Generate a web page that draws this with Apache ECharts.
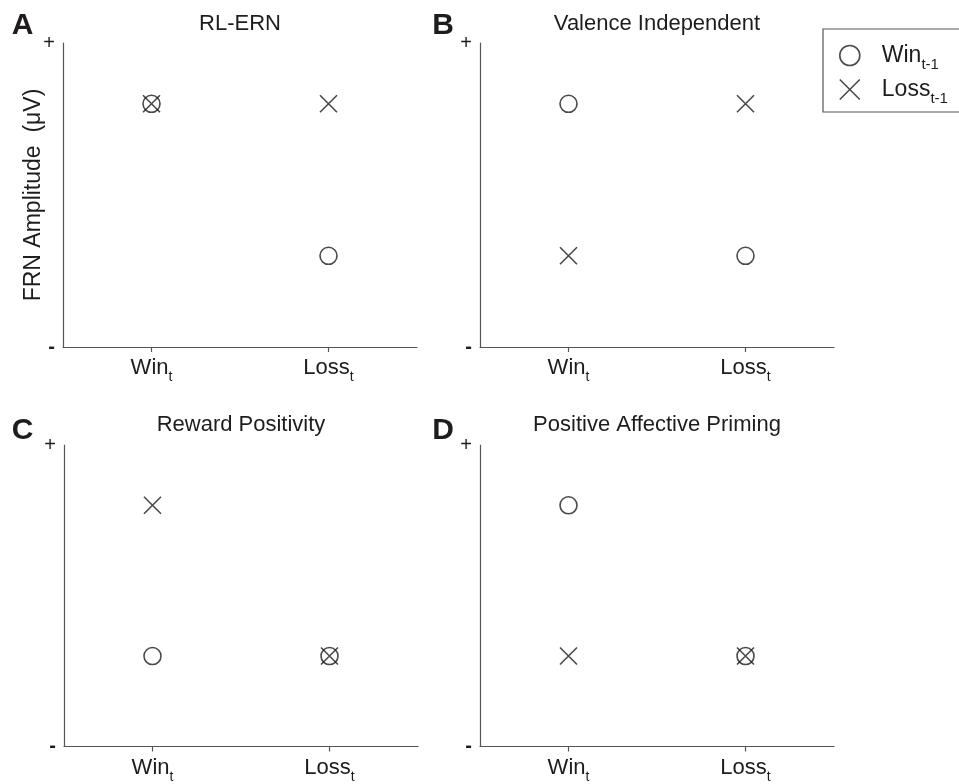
<!DOCTYPE html>
<html>
<head>
<meta charset="utf-8">
<script src="https://cdn.jsdelivr.net/npm/echarts@6/dist/echarts.min.js"></script>
<style>
html,body{margin:0;padding:0;background:#fff;}
#chart{width:959px;height:784px;}
</style>
</head>
<body>
<div id="chart"></div>
<script>
// ---- data ----
const conditions = ['Win', 'Loss'];            // x categories (subscript t)
const panelTitles = ['RL-ERN', 'Valence Independent', 'Reward Positivity', 'Positive Affective Priming'];
const panelLetters = ['A', 'B', 'C', 'D'];
const seriesNames = ['Win t-1', 'Loss t-1'];
const yTickLabels = ['-', '+'];
// FRN amplitude (0 = "-", 1 = "+") for Win_t, Loss_t
const winPrevA = [0.8, 0.3];
const lossPrevA = [0.8, 0.8];
const winPrevB = [0.8, 0.3];
const lossPrevB = [0.3, 0.8];
const winPrevC = [0.3, 0.3];
const lossPrevC = [0.8, 0.3];
const winPrevD = [0.8, 0.3];
const lossPrevD = [0.3, 0.3];

const winPrev = [winPrevA, winPrevB, winPrevC, winPrevD];
const lossPrev = [lossPrevA, lossPrevB, lossPrevC, lossPrevD];

// ---- layout / style ----
const FONT = "'Liberation Sans', Arial, Helvetica, sans-serif";
const INK = '#1f1c1d';
const AXIS = '#555555';
const grids = [
  {left: 63, top: 43, width: 354, height: 304},
  {left: 480, top: 43, width: 354, height: 304},
  {left: 64, top: 445, width: 354, height: 303},
  {left: 480, top: 445, width: 354, height: 303}
];
const titlePos = [[240, 24], [657, 24], [241, 425], [657, 425]];
const letterPos = [[22.5, 26], [443, 26], [22.5, 431], [443, 431]];

const xPath = 'path://M0,0L10,10M10,0L0,10';

const richSub = {
  a: {fontSize: 22, fontFamily: FONT, color: INK, lineHeight: 26},
  s: {fontSize: 14, fontFamily: FONT, color: INK, lineHeight: 26, padding: [19, 0, 0, 0]}
};
const richLegend = {
  a: {fontSize: 23, fontFamily: FONT, color: INK, lineHeight: 27, padding: [0, 0, 0, 17]},
  s: {fontSize: 15, fontFamily: FONT, color: INK, lineHeight: 27, padding: [18, 0, 0, 0]}
};
const richY = {
  p: {fontSize: 20, fontFamily: FONT, color: INK},
  m: {fontSize: 20, fontFamily: FONT, color: INK, fontWeight: 'bold'}
};

const option = {
  animation: false,
  backgroundColor: '#fff',
  textStyle: {fontFamily: FONT, color: INK},
  grid: grids.map(g => Object.assign({containLabel: false}, g)),
  xAxis: grids.map((g, i) => ({
    type: 'category',
    gridIndex: i,
    data: conditions,
    boundaryGap: true,
    axisLine: {show: true, lineStyle: {color: AXIS, width: 1.2}},
    axisTick: {show: true, alignWithLabel: true, length: 5, lineStyle: {color: AXIS, width: 1.2}},
    axisLabel: {
      margin: 8,
      formatter: v => '{a|' + v + '}{s|t}',
      rich: richSub
    },
    splitLine: {show: false}
  })),
  yAxis: grids.map((g, i) => ({
    type: 'value',
    gridIndex: i,
    min: 0, max: 1, interval: 1,
    name: i === 0 ? 'FRN Amplitude  (\u03bcV)' : '',
    nameLocation: 'middle',
    nameGap: 18,
    nameMoveOverlap: false,
    nameTextStyle: {fontSize: 23, fontFamily: FONT, color: INK},
    axisLine: {show: true, lineStyle: {color: AXIS, width: 1.2}},
    axisTick: {show: false},
    axisLabel: {
      margin: 8,
      formatter: v => (yTickLabels[v] === '+' ? '{p|+}' : '{m|-}'),
      rich: richY
    },
    splitLine: {show: false}
  })),
  legend: {
    data: seriesNames,
    orient: 'vertical',
    left: 823,
    top: 29,
    padding: [10, 20, 6, 16],
    itemGap: 1,
    itemWidth: 20,
    itemHeight: 21,
    backgroundColor: '#fff',
    borderColor: AXIS,
    borderWidth: 1.2,
    borderRadius: 0,
    itemStyle: {borderWidth: 1.6},
    selectedMode: false,
    formatter: n => {
      const p = n.split(' ');
      return '{a|' + p[0] + '}{s|' + p[1] + '}';
    },
    textStyle: {rich: richLegend}
  },
  graphic: [].concat(
    panelTitles.map((t, i) => ({
      type: 'text', x: titlePos[i][0], y: titlePos[i][1],
      style: {text: t, font: '22px ' + FONT, fill: INK, textAlign: 'center', textVerticalAlign: 'middle'}
    })),
    panelLetters.map((t, i) => ({
      type: 'text', x: letterPos[i][0], y: letterPos[i][1],
      style: {text: t, font: 'bold 30px ' + FONT, fill: INK, textAlign: 'center', textVerticalAlign: 'middle'}
    }))
  ),
  series: []
};

for (let i = 0; i < 4; i++) {
  option.series.push({
    type: 'scatter',
    name: seriesNames[0],
    xAxisIndex: i, yAxisIndex: i,
    data: winPrev[i],
    symbol: 'circle',
    symbolSize: 17,
    itemStyle: {color: 'rgba(0,0,0,0)', borderColor: INK, borderWidth: 1.6},
    emphasis: {disabled: true},
    silent: true
  });
  option.series.push({
    type: 'scatter',
    name: seriesNames[1],
    xAxisIndex: i, yAxisIndex: i,
    data: lossPrev[i],
    symbol: xPath,
    symbolSize: 17,
    itemStyle: {color: 'rgba(0,0,0,0)', borderColor: INK, borderWidth: 1.6},
    emphasis: {disabled: true},
    silent: true
  });
}

const chart = echarts.init(document.getElementById('chart'), null, {renderer: 'canvas'});
chart.setOption(option);
</script>
</body>
</html>
